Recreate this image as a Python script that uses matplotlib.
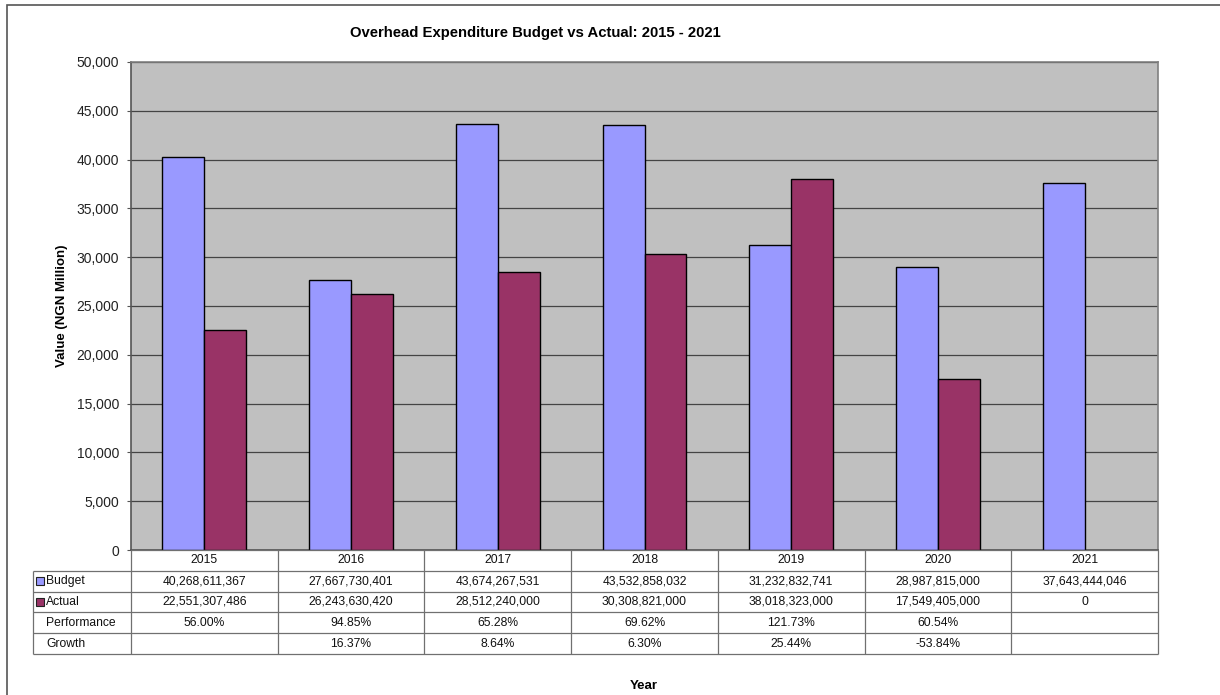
import numpy as np
import matplotlib.pyplot as plt
from matplotlib.patches import Rectangle

plt.rcParams['font.family'] = ['Liberation Sans', 'DejaVu Sans']

years = ['2015', '2016', '2017', '2018', '2019', '2020', '2021']
budget = [40268611367, 27667730401, 43674267531, 43532858032,
          31232832741, 28987815000, 37643444046]
actual = [22551307486, 26243630420, 28512240000, 30308821000,
          38018323000, 17549405000, 0]
performance = ['56.00%', '94.85%', '65.28%', '69.62%', '121.73%', '60.54%', '']
growth = ['', '16.37%', '8.64%', '6.30%', '25.44%', '-53.84%', '']

budget_color = '#9999FF'
actual_color = '#993366'

W, H = 1220, 695
fig = plt.figure(figsize=(W / 100, H / 100), dpi=100)

# outer chart border (runs off the right/bottom edge like the screenshot)
fig.patches.append(Rectangle((7 / W, -0.1), 1.2, 1 - 5 / H + 0.1,
                             transform=fig.transFigure, fill=False,
                             edgecolor='#555555', linewidth=1.2))

x0, x1, y0, y1 = 131, 1158, 62, 550
ax = fig.add_axes([x0 / W, 1 - y1 / H, (x1 - x0) / W, (y1 - y0) / H])
ax.set_facecolor('#C0C0C0')

x = np.arange(len(years))
bw = 0.286
b_m = np.array(budget) / 1e6
a_m = np.array(actual) / 1e6
ax.bar(x - bw / 2, b_m, bw, color=budget_color, edgecolor='black',
       linewidth=[1 if v > 0 else 0 for v in b_m], zorder=3)
ax.bar(x + bw / 2, a_m, bw, color=actual_color, edgecolor='black',
       linewidth=[1 if v > 0 else 0 for v in a_m], zorder=3)

ax.set_xlim(-0.5, len(years) - 0.5)
ax.set_ylim(0, 50000)
ax.set_yticks(np.arange(0, 50001, 5000))
ax.set_yticklabels([f'{v:,}' for v in range(0, 50001, 5000)])
ax.yaxis.grid(True, color='#444444', linewidth=0.9, zorder=0)
ax.set_axisbelow(True)
ax.set_xticks([])
ax.tick_params(axis='y', direction='out', length=3, width=0.8, color='#555555',
               labelsize=10, pad=5.5, labelcolor='#222222')
for s in ax.spines.values():
    s.set_color('#808080')
    s.set_linewidth(1.2)
ax.spines['left'].set_color('#555555')
ax.spines['bottom'].set_color('#555555')

ax.set_ylabel('Value (NGN Million)', fontsize=9.5, fontweight='bold', labelpad=6)

fig.text(535 / W, 1 - 33 / H, 'Overhead Expenditure Budget vs Actual: 2015 - 2021',
         ha='center', va='center', fontsize=10.7, fontweight='bold')
fig.text(644 / W, 1 - 686 / H, 'Year', ha='center', va='center',
         fontsize=9.5, fontweight='bold')

# data table under the plot, drawn in its own pixel-like axes
tbl_left, tbl_bottom = 33, 654
tax = fig.add_axes([tbl_left / W, 1 - tbl_bottom / H,
                    (x1 - tbl_left) / W, (tbl_bottom - y1) / H])
tax.set_xlim(tbl_left, x1)
tax.set_ylim(tbl_bottom, y1)
tax.axis('off')

colw = (x1 - x0) / len(years)
rowh = (tbl_bottom - y1) / 5
line_kw = dict(color='#707070', linewidth=0.9, clip_on=False)

rows = [('Budget', [f'{v:,}' for v in budget]),
        ('Actual', [f'{v:,}' for v in actual]),
        ('Performance', performance),
        ('Growth', growth)]

# horizontal lines
tax.hlines(y1, x0, x1, **line_kw)
for i in range(1, 6):
    tax.hlines(y1 + i * rowh, tbl_left, x1, **line_kw)
# vertical lines
tax.vlines(tbl_left, y1 + rowh, tbl_bottom, **line_kw)
for j in range(len(years) + 1):
    tax.vlines(x0 + j * colw, y1, tbl_bottom, **line_kw)

for j, yr in enumerate(years):
    tax.text(x0 + (j + 0.5) * colw, y1 + 0.5 * rowh, yr, ha='center',
             va='center', fontsize=8.7, color='#111111')
for i, (name, vals) in enumerate(rows, start=1):
    yc = y1 + (i + 0.5) * rowh
    tax.text(46, yc, name, ha='left', va='center', fontsize=8.7, color='#111111')
    for j, v in enumerate(vals):
        tax.text(x0 + (j + 0.5) * colw, yc, v, ha='center', va='center',
                 fontsize=8.7, color='#111111')

# legend keys in the table row labels
for i, col in ((1, budget_color), (2, actual_color)):
    yc = y1 + rowh * (i + 0.5)
    tax.add_patch(Rectangle((36, yc - 4), 8, 8, facecolor=col,
                            edgecolor='#222222', linewidth=0.8, clip_on=False))

fig.savefig('out.png', dpi=100)
